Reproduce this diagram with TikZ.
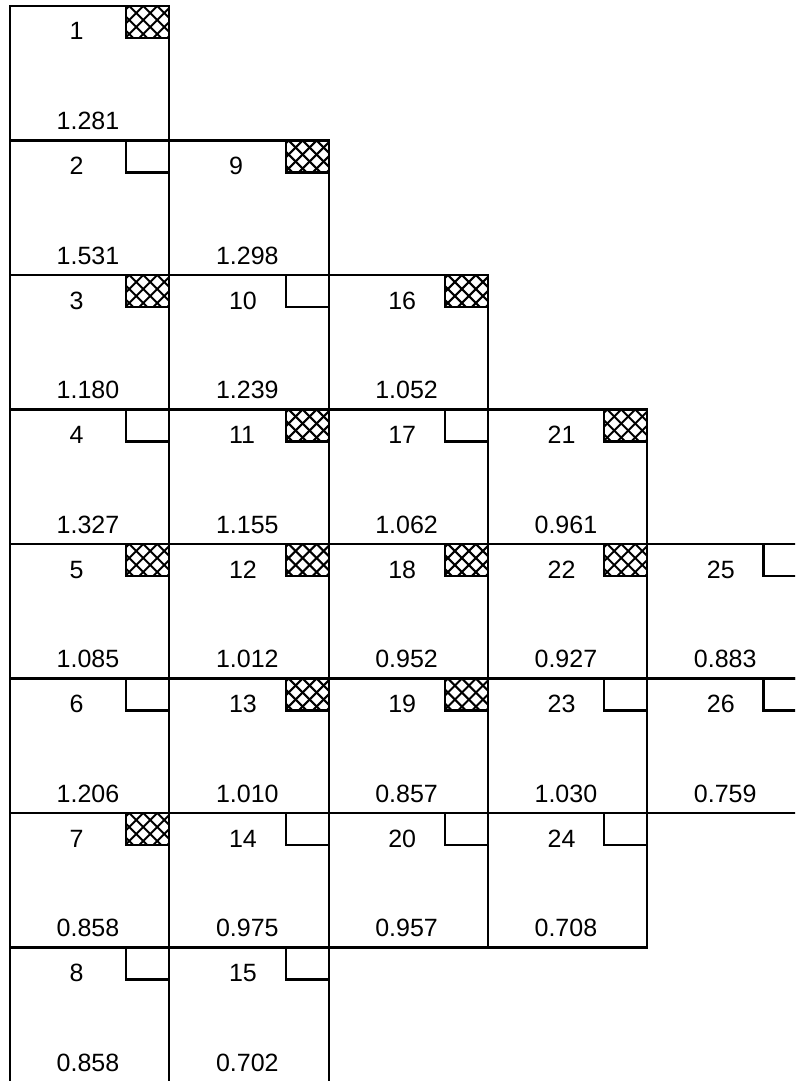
\documentclass[tikz,border=0pt]{standalone}
\usepackage{fontspec}
\setmainfont{Liberation Sans}
\newcommand\basecell[4]{%
  \pgfmathsetmacro\cx{10+#1*159.3}%
  \pgfmathsetmacro\cy{6+#2*134.5}%
  \node[cellbox, anchor=north west] (c#3) at (\cx,\cy) {};
  \node[numlab] (n#3) at ([xshift=59.5pt,yshift=-34pt]c#3.north west) {#3};
  \node[vallab] (v#3) at ([xshift=78pt,yshift=11pt]c#3.south west) {#4};
  \coordinate (m#3) at ([xshift=-43pt]c#3.north east);
  \coordinate (k#3) at ([yshift=-32pt]c#3.north east);
}
\newcommand\ocell[4]{%
  \basecell{#1}{#2}{#3}{#4}%
  \draw[markline] (m#3) |- (k#3);
}
\newcommand\hcell[4]{%
  \basecell{#1}{#2}{#3}{#4}%
  \begin{scope}
    \clip (m#3) rectangle (k#3);
    \foreach \i in {-3,...,7} {
      \draw[hatchline] ([xshift=\i*14pt+3pt]m#3) -- ++(36,36);
      \draw[hatchline] ([xshift=\i*14pt+3pt]m#3) -- ++(-36,36);
    }
  \end{scope}
  \draw[markline] (m#3) rectangle (k#3);
}
\begin{document}
\begin{tikzpicture}[x=1pt,y=-1pt,
  cellbox/.style={draw, line width=2.2pt, minimum width=159.3pt, minimum height=134.5pt, inner sep=0pt, outer sep=0pt},
  numlab/.style={anchor=base west, inner sep=0pt, font=\fontsize{25}{25}\selectfont},
  vallab/.style={anchor=base, inner sep=0pt, font=\fontsize{25}{25}\selectfont},
  markline/.style={draw, line width=2.2pt},
  hatchline/.style={line width=2pt}]
\useasboundingbox (0,0) rectangle (795,1081);
\clip (0,0) rectangle (795,1081);
% column 0
\hcell{0}{0}{1}{1.281}
\ocell{0}{1}{2}{1.531}
\hcell{0}{2}{3}{1.180}
\ocell{0}{3}{4}{1.327}
\hcell{0}{4}{5}{1.085}
\ocell{0}{5}{6}{1.206}
\hcell{0}{6}{7}{0.858}
\ocell{0}{7}{8}{0.858}
% column 1
\hcell{1}{1}{9}{1.298}
\ocell{1}{2}{10}{1.239}
\hcell{1}{3}{11}{1.155}
\hcell{1}{4}{12}{1.012}
\hcell{1}{5}{13}{1.010}
\ocell{1}{6}{14}{0.975}
\ocell{1}{7}{15}{0.702}
% column 2
\hcell{2}{2}{16}{1.052}
\ocell{2}{3}{17}{1.062}
\hcell{2}{4}{18}{0.952}
\hcell{2}{5}{19}{0.857}
\ocell{2}{6}{20}{0.957}
% column 3
\hcell{3}{3}{21}{0.961}
\hcell{3}{4}{22}{0.927}
\ocell{3}{5}{23}{1.030}
\ocell{3}{6}{24}{0.708}
% column 4
\ocell{4}{4}{25}{0.883}
\ocell{4}{5}{26}{0.759}
\end{tikzpicture}
\end{document}
